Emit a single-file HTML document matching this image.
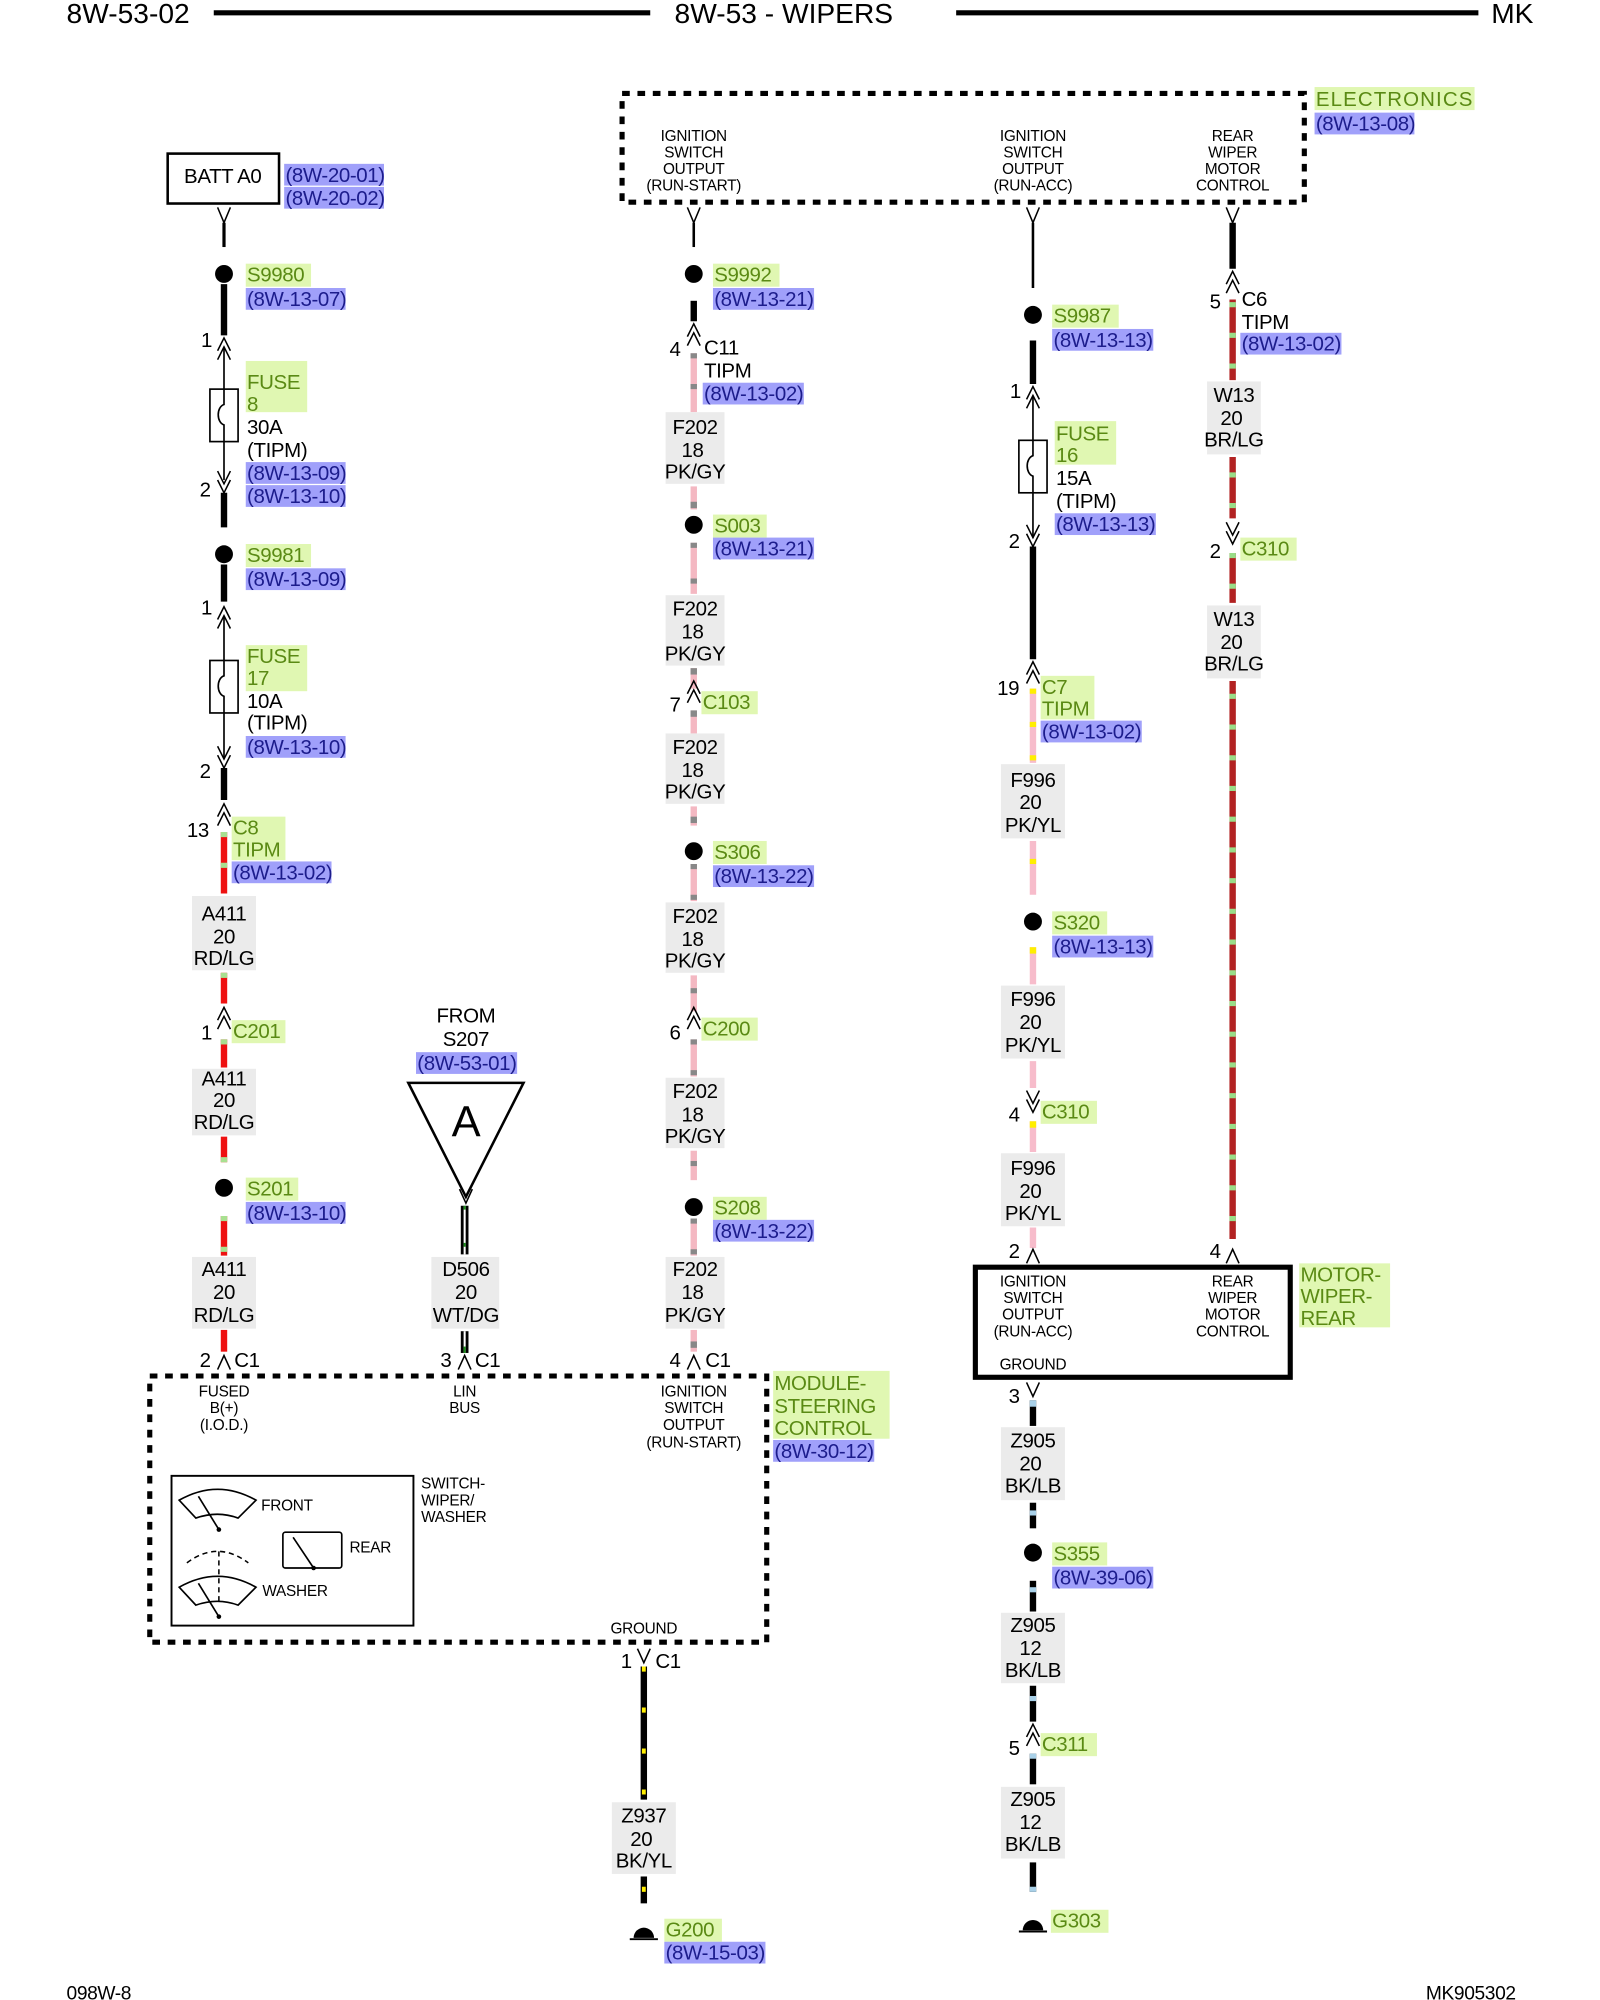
<!DOCTYPE html>
<html><head><meta charset="utf-8"><style>
html,body{margin:0;padding:0;background:#fff;}
svg{display:block;}
text{font-family:"Liberation Sans",sans-serif;font-size:16px;fill:#000;letter-spacing:-0.3px;}
.s{font-size:12px;letter-spacing:-0.2px;}
.h{font-size:22px;letter-spacing:0;}
.gt{fill:#5a8a14;}
.bt{fill:#1c1c8c;}
.g{fill:#e0f7b2;}
.b{fill:#a0a0fa;}
.lb{fill:#ebebeb;}
.c{text-anchor:middle;}
.ch{fill:none;stroke:#000;stroke-width:1.2;}
</style></head><body>
<svg width="1600" height="2000" viewBox="0 0 1250 1562.5" xmlns="http://www.w3.org/2000/svg">
<!-- header -->
<text x="52" y="18" class="h">8W-53-02</text>
<line x1="167" y1="10" x2="508" y2="10" stroke="#000" stroke-width="4"/>
<text x="527" y="18" class="h">8W-53 - WIPERS</text>
<line x1="747" y1="10" x2="1155" y2="10" stroke="#000" stroke-width="4"/>
<text x="1165" y="18" class="h">MK</text>

<!-- Electronics box -->
<rect x="486" y="73" width="533" height="85" fill="none" stroke="#000" stroke-width="4" stroke-dasharray="6 6"/>
<rect x="1027" y="68" width="125" height="18" class="g"/><text x="1028" y="83" class="gt" textLength="122">ELECTRONICS</text>
<rect x="1027" y="88" width="78" height="17" class="b"/><text x="1028" y="102" class="bt">(8W-13-08)</text>
<g class="s">
<text x="542" y="110" class="s c">IGNITION</text><text x="542" y="123" class="s c">SWITCH</text><text x="542" y="136" class="s c">OUTPUT</text><text x="542" y="149" class="s c">(RUN-START)</text>
<text x="807" y="110" class="s c">IGNITION</text><text x="807" y="123" class="s c">SWITCH</text><text x="807" y="136" class="s c">OUTPUT</text><text x="807" y="149" class="s c">(RUN-ACC)</text>
<text x="963" y="110" class="s c">REAR</text><text x="963" y="123" class="s c">WIPER</text><text x="963" y="136" class="s c">MOTOR</text><text x="963" y="149" class="s c">CONTROL</text>
</g>

<!-- ================= COLUMN 1 (x=175) ================= -->
<rect x="131" y="120" width="87" height="39" fill="none" stroke="#000" stroke-width="2"/>
<text x="174" y="143" class="c">BATT A0</text>
<rect x="222" y="128" width="78" height="17" class="b"/><text x="223" y="142" class="bt">(8W-20-01)</text>
<rect x="222" y="146" width="78" height="17" class="b"/><text x="223" y="160" class="bt">(8W-20-02)</text>
<path d="M170 162 L175 174 L180 162" class="ch"/>
<line x1="175" y1="174" x2="175" y2="193" stroke="#000" stroke-width="2.5"/>
<circle cx="175" cy="214" r="7"/>
<rect x="192" y="206" width="51" height="18" class="g"/><text x="193" y="220" class="gt">S9980</text>
<rect x="192" y="225" width="78" height="17" class="b"/><text x="193" y="239" class="bt">(8W-13-07)</text>
<line x1="175" y1="222" x2="175" y2="262" stroke="#000" stroke-width="5"/>
<text x="157" y="271">1</text>
<path d="M170 274 L175 264 L180 274 M170 281 L175 271 L180 281" class="ch"/>
<line x1="175" y1="272" x2="175" y2="375" stroke="#000" stroke-width="1.3"/>
<rect x="164" y="304" width="22" height="41" fill="#fff" stroke="#000" stroke-width="1.3"/>
<path d="M175 304 L175 316 C169 318 169 330 175 332 L175 345" fill="none" stroke="#000" stroke-width="1.3"/>
<rect x="192" y="282" width="48" height="40" class="g"/><text x="193" y="304" class="gt">FUSE</text><text x="193" y="321" class="gt">8</text>
<text x="193" y="339">30A</text><text x="193" y="357">(TIPM)</text>
<rect x="192" y="361" width="78" height="17" class="b"/><text x="193" y="375" class="bt">(8W-13-09)</text>
<rect x="192" y="379" width="78" height="17" class="b"/><text x="193" y="393" class="bt">(8W-13-10)</text>
<text x="156" y="388">2</text>
<path d="M170 368 L175 378 L180 368 M170 375 L175 385 L180 375" class="ch"/>
<line x1="175" y1="385" x2="175" y2="412" stroke="#000" stroke-width="5"/>
<circle cx="175" cy="433" r="7"/>
<rect x="192" y="425" width="51" height="18" class="g"/><text x="193" y="439" class="gt">S9981</text>
<rect x="192" y="444" width="78" height="17" class="b"/><text x="193" y="458" class="bt">(8W-13-09)</text>
<line x1="175" y1="441" x2="175" y2="470" stroke="#000" stroke-width="5"/>
<text x="157" y="480">1</text>
<path d="M170 484 L175 474 L180 484 M170 491 L175 481 L180 491" class="ch"/>
<line x1="175" y1="482" x2="175" y2="592" stroke="#000" stroke-width="1.3"/>
<rect x="164" y="516" width="22" height="41" fill="#fff" stroke="#000" stroke-width="1.3"/>
<path d="M175 516 L175 528 C169 530 169 542 175 544 L175 557" fill="none" stroke="#000" stroke-width="1.3"/>
<rect x="192" y="504" width="48" height="36" class="g"/><text x="193" y="518" class="gt">FUSE</text><text x="193" y="535" class="gt">17</text>
<text x="193" y="553">10A</text><text x="193" y="570">(TIPM)</text>
<rect x="192" y="575" width="78" height="17" class="b"/><text x="193" y="589" class="bt">(8W-13-10)</text>
<text x="156" y="608">2</text>
<path d="M170 583 L175 593 L180 583 M170 590 L175 600 L180 590" class="ch"/>
<line x1="175" y1="600" x2="175" y2="625" stroke="#000" stroke-width="5"/>
<text x="146" y="654">13</text>
<path d="M170 638 L175 628 L180 638 M170 645 L175 635 L180 645" class="ch"/>
<rect x="181" y="638" width="42" height="34" class="g"/><text x="182" y="652" class="gt">C8</text><text x="182" y="669" class="gt">TIPM</text>
<rect x="181" y="673" width="78" height="17" class="b"/><text x="182" y="687" class="bt">(8W-13-02)</text>
<g stroke-width="5">
<line x1="175" y1="650" x2="175" y2="698" stroke="#ee1111"/><line x1="175" y1="650" x2="175" y2="698" stroke="#a8e090" stroke-dasharray="4 20"/>
<line x1="175" y1="760" x2="175" y2="784" stroke="#ee1111"/><line x1="175" y1="760" x2="175" y2="784" stroke="#a8e090" stroke-dasharray="4 20"/>
<line x1="175" y1="812" x2="175" y2="834" stroke="#ee1111"/><line x1="175" y1="812" x2="175" y2="834" stroke="#a8e090" stroke-dasharray="4 20"/>
<line x1="175" y1="888" x2="175" y2="908" stroke="#ee1111"/><line x1="175" y1="888" x2="175" y2="908" stroke="#a8e090" stroke-dasharray="4 20" stroke-dashoffset="-16"/>
<line x1="175" y1="950" x2="175" y2="981" stroke="#ee1111"/><line x1="175" y1="950" x2="175" y2="981" stroke="#a8e090" stroke-dasharray="4 20"/>
<line x1="175" y1="1039" x2="175" y2="1056" stroke="#ee1111"/>
</g>
<rect x="150" y="700" width="50" height="58" class="lb"/>
<text x="175" y="719" class="c">A411</text><text x="175" y="737" class="c">20</text><text x="175" y="754" class="c">RD/LG</text>
<text x="157" y="812">1</text>
<path d="M170 797 L175 787 L180 797 M170 804 L175 794 L180 804" class="ch"/>
<rect x="181" y="797" width="42" height="18" class="g"/><text x="182" y="811" class="gt">C201</text>
<rect x="150" y="835" width="50" height="52" class="lb"/>
<text x="175" y="848" class="c">A411</text><text x="175" y="865" class="c">20</text><text x="175" y="882" class="c">RD/LG</text>
<circle cx="175" cy="928" r="7"/>
<rect x="192" y="920" width="41" height="18" class="g"/><text x="193" y="934" class="gt">S201</text>
<rect x="192" y="939" width="78" height="17" class="b"/><text x="193" y="953" class="bt">(8W-13-10)</text>
<rect x="150" y="982" width="50" height="56" class="lb"/>
<text x="175" y="997" class="c">A411</text><text x="175" y="1015" class="c">20</text><text x="175" y="1033" class="c">RD/LG</text>
<text x="156" y="1068">2</text>
<path d="M170 1070 L175 1059 L180 1070" class="ch"/>
<text x="183" y="1068">C1</text>

<!-- ================= D506 (x=363) ================= -->
<text x="364" y="799" class="c">FROM</text>
<text x="364" y="817" class="c">S207</text>
<rect x="325" y="822" width="79" height="17" class="b"/><text x="326" y="836" class="bt">(8W-53-01)</text>
<path d="M319 846 L409 846 L364 935 Z" fill="#fff" stroke="#000" stroke-width="2"/>
<text x="364" y="888" class="c" style="font-size:34px">A</text>
<path d="M359 929 L364 940 L369 929" class="ch"/>
<g>
<line x1="363" y1="942" x2="363" y2="980" stroke="#000" stroke-width="6"/>
<line x1="363" y1="942" x2="363" y2="980" stroke="#fff" stroke-width="1.6"/>
<line x1="363" y1="942" x2="363" y2="980" stroke="#1a8a1a" stroke-width="1.6" stroke-dasharray="3 26"/>
<line x1="363" y1="1040" x2="363" y2="1057" stroke="#000" stroke-width="6"/>
<line x1="363" y1="1040" x2="363" y2="1057" stroke="#fff" stroke-width="1.6"/>
<line x1="363" y1="1052" x2="363" y2="1057" stroke="#1a8a1a" stroke-width="1.6"/>
</g>
<rect x="337" y="982" width="53" height="56" class="lb"/>
<text x="364" y="997" class="c">D506</text><text x="364" y="1015" class="c">20</text><text x="364" y="1033" class="c">WT/DG</text>
<text x="344" y="1068">3</text>
<path d="M358 1070 L363 1059 L368 1070" class="ch"/>
<text x="371" y="1068">C1</text>

<!-- ================= COLUMN 2 (x=542) ================= -->
<path d="M537 162 L542 174 L547 162" class="ch"/>
<line x1="542" y1="174" x2="542" y2="193" stroke="#000" stroke-width="2"/>
<circle cx="542" cy="214" r="7"/>
<rect x="557" y="206" width="52" height="18" class="g"/><text x="558" y="220" class="gt">S9992</text>
<rect x="557" y="225" width="79" height="17" class="b"/><text x="558" y="239" class="bt">(8W-13-21)</text>
<line x1="542" y1="235" x2="542" y2="251" stroke="#000" stroke-width="5"/>
<text x="523" y="278">4</text>
<path d="M537 263 L542 253 L547 263 M537 270 L542 260 L547 270" class="ch"/>
<text x="550" y="277">C11</text><text x="550" y="295">TIPM</text>
<rect x="549" y="299" width="79" height="17" class="b"/><text x="550" y="313" class="bt">(8W-13-02)</text>
<g stroke-width="5">
<line x1="542" y1="276" x2="542" y2="322" stroke="#f4b8c2"/><line x1="542" y1="276" x2="542" y2="322" stroke="#888" stroke-dasharray="4 20"/>
<line x1="542" y1="380" x2="542" y2="398" stroke="#f4b8c2"/><line x1="542" y1="392" x2="542" y2="397" stroke="#888"/>
<line x1="542" y1="424" x2="542" y2="464" stroke="#f4b8c2"/><line x1="542" y1="424" x2="542" y2="464" stroke="#888" stroke-dasharray="4 24"/>
<line x1="542" y1="522" x2="542" y2="538" stroke="#f4b8c2"/><line x1="542" y1="522" x2="542" y2="527" stroke="#888"/>
<line x1="542" y1="555" x2="542" y2="573" stroke="#f4b8c2"/><line x1="542" y1="555" x2="542" y2="560" stroke="#888"/>
<line x1="542" y1="630" x2="542" y2="645" stroke="#f4b8c2"/><line x1="542" y1="638" x2="542" y2="643" stroke="#888"/>
<line x1="542" y1="675" x2="542" y2="704" stroke="#f4b8c2"/><line x1="542" y1="675" x2="542" y2="704" stroke="#888" stroke-dasharray="4 20"/>
<line x1="542" y1="762" x2="542" y2="790" stroke="#f4b8c2"/><line x1="542" y1="762" x2="542" y2="790" stroke="#888" stroke-dasharray="4 20" stroke-dashoffset="-10"/>
<line x1="542" y1="812" x2="542" y2="841" stroke="#f4b8c2"/><line x1="542" y1="812" x2="542" y2="841" stroke="#888" stroke-dasharray="4 20"/>
<line x1="542" y1="899" x2="542" y2="922" stroke="#f4b8c2"/><line x1="542" y1="899" x2="542" y2="922" stroke="#888" stroke-dasharray="4 14" stroke-dashoffset="-8"/>
<line x1="542" y1="952" x2="542" y2="981" stroke="#f4b8c2"/><line x1="542" y1="952" x2="542" y2="981" stroke="#888" stroke-dasharray="4 20"/>
<line x1="542" y1="1039" x2="542" y2="1056" stroke="#f4b8c2"/><line x1="542" y1="1048" x2="542" y2="1053" stroke="#888"/>
</g>
<rect x="520" y="322" width="46" height="56" class="lb"/>
<text x="543" y="339" class="c">F202</text><text x="541" y="357" class="c">18</text><text x="543" y="374" class="c">PK/GY</text>
<circle cx="542" cy="410" r="7"/>
<rect x="557" y="402" width="42" height="18" class="g"/><text x="558" y="416" class="gt">S003</text>
<rect x="557" y="420" width="79" height="17" class="b"/><text x="558" y="434" class="bt">(8W-13-21)</text>
<rect x="520" y="465" width="46" height="55" class="lb"/>
<text x="543" y="481" class="c">F202</text><text x="541" y="499" class="c">18</text><text x="543" y="516" class="c">PK/GY</text>
<text x="523" y="556">7</text>
<path d="M537 542 L542 532 L547 542 M537 549 L542 539 L547 549" class="ch"/>
<rect x="548" y="540" width="44" height="18" class="g"/><text x="549" y="554" class="gt">C103</text>
<rect x="520" y="573" width="46" height="55" class="lb"/>
<text x="543" y="589" class="c">F202</text><text x="541" y="607" class="c">18</text><text x="543" y="624" class="c">PK/GY</text>
<circle cx="542" cy="665" r="7"/>
<rect x="557" y="657" width="42" height="18" class="g"/><text x="558" y="671" class="gt">S306</text>
<rect x="557" y="676" width="79" height="17" class="b"/><text x="558" y="690" class="bt">(8W-13-22)</text>
<rect x="520" y="705" width="46" height="55" class="lb"/>
<text x="543" y="721" class="c">F202</text><text x="541" y="739" class="c">18</text><text x="543" y="756" class="c">PK/GY</text>
<text x="523" y="812">6</text>
<path d="M537 797 L542 787 L547 797 M537 804 L542 794 L547 804" class="ch"/>
<rect x="548" y="795" width="44" height="18" class="g"/><text x="549" y="809" class="gt">C200</text>
<rect x="520" y="842" width="46" height="55" class="lb"/>
<text x="543" y="858" class="c">F202</text><text x="541" y="876" class="c">18</text><text x="543" y="893" class="c">PK/GY</text>
<circle cx="542" cy="943" r="7"/>
<rect x="557" y="935" width="42" height="18" class="g"/><text x="558" y="949" class="gt">S208</text>
<rect x="557" y="953" width="79" height="17" class="b"/><text x="558" y="967" class="bt">(8W-13-22)</text>
<rect x="520" y="982" width="46" height="56" class="lb"/>
<text x="543" y="997" class="c">F202</text><text x="541" y="1015" class="c">18</text><text x="543" y="1033" class="c">PK/GY</text>
<text x="523" y="1068">4</text>
<path d="M537 1070 L542 1059 L547 1070" class="ch"/>
<text x="551" y="1068">C1</text>

<!-- Module steering control -->
<rect x="117" y="1075" width="482" height="208" fill="none" stroke="#000" stroke-width="4" stroke-dasharray="6 6"/>
<text x="175" y="1091" class="s c">FUSED</text><text x="175" y="1104" class="s c">B(+)</text><text x="175" y="1117" class="s c">(I.O.D.)</text>
<text x="363" y="1091" class="s c">LIN</text><text x="363" y="1104" class="s c">BUS</text>
<text x="542" y="1091" class="s c">IGNITION</text><text x="542" y="1104" class="s c">SWITCH</text><text x="542" y="1117" class="s c">OUTPUT</text><text x="542" y="1131" class="s c">(RUN-START)</text>
<rect x="604" y="1071" width="91" height="53" class="g"/>
<text x="605" y="1086" class="gt">MODULE-</text><text x="605" y="1104" class="gt">STEERING</text><text x="605" y="1121" class="gt">CONTROL</text>
<rect x="604" y="1125" width="79" height="17" class="b"/><text x="605" y="1139" class="bt">(8W-30-12)</text>
<rect x="134" y="1153" width="189" height="117" fill="none" stroke="#000" stroke-width="1.5"/>
<text x="329" y="1163" class="s">SWITCH-</text><text x="329" y="1176" class="s">WIPER/</text><text x="329" y="1189" class="s">WASHER</text>
<path d="M140 1172 Q170 1155 200 1172 L186 1186 Q170 1180 153 1186 Z" fill="#fff" stroke="#000" stroke-width="1.3"/>
<line x1="155" y1="1169" x2="171" y2="1195" stroke="#000" stroke-width="1.3"/><circle cx="171" cy="1195" r="1.8"/>
<text x="204" y="1180" class="s">FRONT</text>
<rect x="221" y="1197" width="46" height="28" rx="2" fill="#fff" stroke="#000" stroke-width="1.3"/>
<line x1="229" y1="1201" x2="245" y2="1225" stroke="#000" stroke-width="1.3"/><circle cx="245" cy="1225" r="1.8"/>
<text x="273" y="1213" class="s">REAR</text>
<path d="M146 1221 Q170 1203 194 1221" fill="none" stroke="#000" stroke-width="1.2" stroke-dasharray="4 3"/>
<line x1="171" y1="1212" x2="171" y2="1252" stroke="#000" stroke-width="1.2" stroke-dasharray="4 3"/>
<path d="M140 1240 Q170 1223 200 1240 L186 1254 Q170 1248 153 1254 Z" fill="none" stroke="#000" stroke-width="1.3"/>
<line x1="155" y1="1237" x2="171" y2="1263" stroke="#000" stroke-width="1.3"/><circle cx="171" cy="1263" r="1.8"/>
<text x="205" y="1247" class="s">WASHER</text>
<text x="503" y="1276" class="s c">GROUND</text>
<text x="485" y="1303">1</text>
<path d="M498 1288 L503 1299 L508 1288" class="ch"/>
<text x="512" y="1303">C1</text>
<line x1="503" y1="1302" x2="503" y2="1406" stroke="#000" stroke-width="5"/>
<line x1="503" y1="1302" x2="503" y2="1406" stroke="#ffee00" stroke-dasharray="4 28" stroke-width="3"/>
<line x1="503" y1="1466" x2="503" y2="1487" stroke="#000" stroke-width="5"/>
<line x1="503" y1="1474" x2="503" y2="1478" stroke="#ffee00" stroke-width="3"/>
<rect x="478" y="1408" width="50" height="56" class="lb"/>
<text x="503" y="1424" class="c">Z937</text><text x="501" y="1442" class="c">20</text><text x="503" y="1459" class="c">BK/YL</text>
<path d="M495 1514 A8 8 0 0 1 511 1514 Z"/><line x1="492" y1="1515" x2="514" y2="1515" stroke="#000" stroke-width="1.5"/>
<rect x="519" y="1499" width="45" height="18" class="g"/><text x="520" y="1513" class="gt">G200</text>
<rect x="519" y="1517" width="79" height="17" class="b"/><text x="520" y="1531" class="bt">(8W-15-03)</text>

<!-- ================= COLUMN 3 (x=807) ================= -->
<path d="M802 162 L807 174 L812 162" class="ch"/>
<line x1="807" y1="174" x2="807" y2="225" stroke="#000" stroke-width="2"/>
<circle cx="807" cy="246" r="7"/>
<rect x="822" y="238" width="52" height="18" class="g"/><text x="823" y="252" class="gt">S9987</text>
<rect x="822" y="257" width="79" height="17" class="b"/><text x="823" y="271" class="bt">(8W-13-13)</text>
<line x1="807" y1="266" x2="807" y2="300" stroke="#000" stroke-width="5"/>
<text x="789" y="311">1</text>
<path d="M802 312 L807 302 L812 312 M802 319 L807 309 L812 319" class="ch"/>
<line x1="807" y1="310" x2="807" y2="420" stroke="#000" stroke-width="1.3"/>
<rect x="796" y="344" width="22" height="41" fill="#fff" stroke="#000" stroke-width="1.3"/>
<path d="M807 344 L807 356 C801 358 801 370 807 372 L807 385" fill="none" stroke="#000" stroke-width="1.3"/>
<rect x="824" y="329" width="48" height="34" class="g"/><text x="825" y="344" class="gt">FUSE</text><text x="825" y="361" class="gt">16</text>
<text x="825" y="379">15A</text><text x="825" y="397">(TIPM)</text>
<rect x="824" y="401" width="79" height="17" class="b"/><text x="825" y="415" class="bt">(8W-13-13)</text>
<text x="788" y="428">2</text>
<path d="M802 410 L807 420 L812 410 M802 417 L807 427 L812 417" class="ch"/>
<line x1="807" y1="427" x2="807" y2="515" stroke="#000" stroke-width="5"/>
<text x="779" y="543">19</text>
<path d="M802 527 L807 517 L812 527 M802 534 L807 524 L812 534" class="ch"/>
<rect x="813" y="528" width="42" height="34" class="g"/><text x="814" y="542" class="gt">C7</text><text x="814" y="559" class="gt">TIPM</text>
<rect x="813" y="563" width="79" height="17" class="b"/><text x="814" y="577" class="bt">(8W-13-02)</text>
<g stroke-width="5">
<line x1="807" y1="538" x2="807" y2="596" stroke="#f7bccb"/><line x1="807" y1="538" x2="807" y2="596" stroke="#ffee00" stroke-dasharray="4 22"/>
<line x1="807" y1="657" x2="807" y2="699" stroke="#f7bccb"/><line x1="807" y1="657" x2="807" y2="699" stroke="#ffee00" stroke-dasharray="4 30" stroke-dashoffset="-14"/>
<line x1="807" y1="740" x2="807" y2="769" stroke="#f7bccb"/><line x1="807" y1="740" x2="807" y2="745" stroke="#ffee00"/>
<line x1="807" y1="829" x2="807" y2="850" stroke="#f7bccb"/>
<line x1="807" y1="876" x2="807" y2="900" stroke="#f7bccb"/><line x1="807" y1="876" x2="807" y2="881" stroke="#ffee00"/>
<line x1="807" y1="959" x2="807" y2="975" stroke="#f7bccb"/>
</g>
<rect x="782" y="597" width="50" height="58" class="lb"/>
<text x="807" y="615" class="c">F996</text><text x="805" y="632" class="c">20</text><text x="807" y="650" class="c">PK/YL</text>
<circle cx="807" cy="720" r="7"/>
<rect x="822" y="712" width="43" height="18" class="g"/><text x="823" y="726" class="gt">S320</text>
<rect x="822" y="731" width="79" height="17" class="b"/><text x="823" y="745" class="bt">(8W-13-13)</text>
<rect x="782" y="770" width="50" height="57" class="lb"/>
<text x="807" y="786" class="c">F996</text><text x="805" y="804" class="c">20</text><text x="807" y="822" class="c">PK/YL</text>
<text x="788" y="876">4</text>
<path d="M802 852 L807 862 L812 852 M802 859 L807 869 L812 859" class="ch"/>
<rect x="813" y="860" width="44" height="18" class="g"/><text x="814" y="874" class="gt">C310</text>
<rect x="782" y="901" width="50" height="57" class="lb"/>
<text x="807" y="918" class="c">F996</text><text x="805" y="936" class="c">20</text><text x="807" y="953" class="c">PK/YL</text>
<text x="788" y="983">2</text>
<path d="M802 987 L807 976 L812 987" class="ch"/>

<!-- Motor box -->
<rect x="762" y="990" width="246" height="86" fill="none" stroke="#000" stroke-width="4"/>
<text x="807" y="1005" class="s c">IGNITION</text><text x="807" y="1018" class="s c">SWITCH</text><text x="807" y="1031" class="s c">OUTPUT</text><text x="807" y="1044" class="s c">(RUN-ACC)</text>
<text x="807" y="1070" class="s c">GROUND</text>
<text x="963" y="1005" class="s c">REAR</text><text x="963" y="1018" class="s c">WIPER</text><text x="963" y="1031" class="s c">MOTOR</text><text x="963" y="1044" class="s c">CONTROL</text>
<rect x="1015" y="987" width="71" height="50" class="g"/>
<text x="1016" y="1001" class="gt">MOTOR-</text><text x="1016" y="1018" class="gt">WIPER-</text><text x="1016" y="1035" class="gt">REAR</text>
<text x="788" y="1096">3</text>
<path d="M802 1080 L807 1091 L812 1080" class="ch"/>
<g stroke-width="5">
<line x1="807" y1="1094" x2="807" y2="1114" stroke="#000"/><line x1="807" y1="1094" x2="807" y2="1099" stroke="#a8d0e8"/>
<line x1="807" y1="1174" x2="807" y2="1194" stroke="#000"/><line x1="807" y1="1180" x2="807" y2="1184" stroke="#a8d0e8"/>
<line x1="807" y1="1235" x2="807" y2="1259" stroke="#000"/><line x1="807" y1="1240" x2="807" y2="1244" stroke="#a8d0e8"/>
<line x1="807" y1="1317" x2="807" y2="1345" stroke="#000"/><line x1="807" y1="1325" x2="807" y2="1329" stroke="#a8d0e8"/>
<line x1="807" y1="1370" x2="807" y2="1394" stroke="#000"/><line x1="807" y1="1370" x2="807" y2="1374" stroke="#a8d0e8"/>
<line x1="807" y1="1455" x2="807" y2="1478" stroke="#000"/><line x1="807" y1="1474" x2="807" y2="1478" stroke="#a8d0e8"/>
</g>
<rect x="782" y="1115" width="50" height="57" class="lb"/>
<text x="807" y="1131" class="c">Z905</text><text x="805" y="1149" class="c">20</text><text x="807" y="1166" class="c">BK/LB</text>
<circle cx="807" cy="1213" r="7"/>
<rect x="822" y="1205" width="43" height="18" class="g"/><text x="823" y="1219" class="gt">S355</text>
<rect x="822" y="1224" width="79" height="17" class="b"/><text x="823" y="1238" class="bt">(8W-39-06)</text>
<rect x="782" y="1260" width="50" height="55" class="lb"/>
<text x="807" y="1275" class="c">Z905</text><text x="805" y="1293" class="c">12</text><text x="807" y="1310" class="c">BK/LB</text>
<text x="788" y="1371">5</text>
<path d="M802 1357 L807 1347 L812 1357 M802 1364 L807 1354 L812 1364" class="ch"/>
<rect x="813" y="1354" width="44" height="18" class="g"/><text x="814" y="1368" class="gt">C311</text>
<rect x="782" y="1396" width="50" height="56" class="lb"/>
<text x="807" y="1411" class="c">Z905</text><text x="805" y="1429" class="c">12</text><text x="807" y="1446" class="c">BK/LB</text>
<path d="M799 1508 A8 8 0 0 1 815 1508 Z"/><line x1="796" y1="1509" x2="818" y2="1509" stroke="#000" stroke-width="1.5"/>
<rect x="821" y="1492" width="45" height="18" class="g"/><text x="822" y="1506" class="gt">G303</text>

<!-- ================= COLUMN 4 (x=963) ================= -->
<path d="M958 162 L963 174 L968 162" class="ch"/>
<line x1="963" y1="174" x2="963" y2="210" stroke="#000" stroke-width="5"/>
<text x="945" y="241">5</text>
<path d="M958 222 L963 212 L968 222 M958 229 L963 219 L968 229" class="ch"/>
<text x="970" y="239">C6</text><text x="970" y="257">TIPM</text>
<rect x="969" y="260" width="79" height="17" class="b"/><text x="970" y="274" class="bt">(8W-13-02)</text>
<g stroke-width="5">
<line x1="963" y1="234" x2="963" y2="297" stroke="#b22222"/><line x1="963" y1="236" x2="963" y2="297" stroke="#99dd88" stroke-dasharray="4 20"/>
<line x1="963" y1="357" x2="963" y2="405" stroke="#b22222"/><line x1="963" y1="357" x2="963" y2="405" stroke="#99dd88" stroke-dasharray="4 20" stroke-dashoffset="-12"/>
<line x1="963" y1="432" x2="963" y2="471" stroke="#b22222"/><line x1="963" y1="432" x2="963" y2="471" stroke="#99dd88" stroke-dasharray="4 20"/>
<line x1="963" y1="532" x2="963" y2="968" stroke="#b22222"/><line x1="963" y1="532" x2="963" y2="968" stroke="#99dd88" stroke-dasharray="4 20" stroke-dashoffset="-10"/>
</g>
<rect x="943" y="298" width="42" height="57" class="lb"/>
<text x="964" y="314" class="c">W13</text><text x="962" y="332" class="c">20</text><text x="964" y="349" class="c">BR/LG</text>
<text x="945" y="436">2</text>
<path d="M958 408 L963 418 L968 408 M958 415 L963 425 L968 415" class="ch"/>
<rect x="969" y="420" width="44" height="18" class="g"/><text x="970" y="434" class="gt">C310</text>
<rect x="943" y="473" width="42" height="57" class="lb"/>
<text x="964" y="489" class="c">W13</text><text x="962" y="507" class="c">20</text><text x="964" y="524" class="c">BR/LG</text>
<text x="945" y="983">4</text>
<path d="M958 987 L963 976 L968 987" class="ch"/>

<!-- footer -->
<text x="52" y="1562" style="font-size:15px">098W-8</text>
<text x="1114" y="1562" style="font-size:15px">MK905302</text>
</svg>
</body></html>
